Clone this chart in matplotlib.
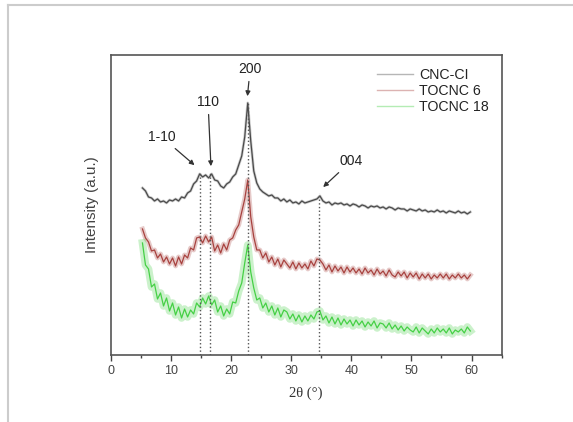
import numpy as np
import matplotlib.pyplot as plt
from matplotlib.lines import Line2D

two_theta = np.linspace(5.3, 59.8, 110)

# CNC-CI intensities (a.u.)
cnc_ci = [167, 164, 158, 157, 154, 156, 153, 154, 152, 155,
          154, 156, 154, 158, 157, 162, 164, 171, 174, 181,
          178, 180, 177, 181, 175, 174, 169, 167, 171, 173,
          178, 181, 190, 199, 218, 252, 214, 184, 172, 166,
          163, 161, 159, 160, 157, 157, 154, 156, 153, 155,
          152, 153, 151, 154, 152, 153, 154, 155, 156, 159,
          154, 152, 153, 150, 152, 151, 152, 150, 151, 149,
          151, 150, 148, 150, 149, 147, 149, 148, 149, 147,
          148, 146, 148, 147, 145, 147, 146, 146, 144, 146,
          145, 144, 146, 144, 145, 143, 144, 143, 145, 143,
          144, 142, 144, 143, 142, 144, 142, 143, 141, 143]

# TOCNC 6
tocnc6 = [126, 117, 113, 104, 105, 97, 101, 93, 98, 91,
          97, 89, 98, 91, 100, 97, 107, 105, 117, 118,
          112, 119, 113, 118, 104, 110, 102, 111, 105, 115,
          117, 125, 130, 143, 156, 175, 138, 118, 105, 105,
          97, 102, 93, 98, 90, 96, 88, 95, 91, 87,
          93, 86, 92, 87, 91, 86, 94, 89, 96, 95,
          91, 85, 90, 83, 89, 84, 88, 82, 88, 83,
          87, 82, 86, 81, 87, 82, 85, 80, 86, 81,
          84, 79, 85, 80, 78, 83, 79, 83, 77, 82,
          78, 82, 76, 81, 77, 81, 76, 80, 77, 81,
          77, 81, 76, 80, 77, 81, 77, 80, 76, 80]

# TOCNC 18
tocnc18 = [112, 90, 86, 68, 71, 56, 62, 49, 57, 44,
           52, 40, 48, 37, 46, 38, 45, 41, 52, 48,
           57, 51, 59, 50, 55, 43, 49, 39, 46, 41,
           53, 52, 64, 72, 92, 110, 83, 67, 55, 57,
           47, 52, 43, 49, 40, 47, 38, 45, 43, 36,
           41, 34, 40, 33, 39, 34, 40, 36, 43, 44,
           35, 39, 32, 38, 31, 37, 30, 36, 31, 35,
           29, 35, 30, 34, 28, 33, 29, 34, 27, 32,
           31, 27, 32, 26, 30, 25, 29, 24, 28, 25,
           23, 28, 22, 27, 24, 21, 26, 22, 27, 23,
           26, 22, 27, 21, 25, 23, 26, 22, 28, 24]

# reflections marked with dotted lines
peak_labels = ["1-10", "110", "200", "004"]
peak_pos = [14.8, 16.6, 22.8, 34.7]
peak_top = [183, 182, 252, 162]

series = [("CNC-CI", cnc_ci, "#4a4a4a"),
          ("TOCNC 6", tocnc6, "#a8423f"),
          ("TOCNC 18", tocnc18, "#45d045")]
band_width = [2.0, 3.5, 5.5]  # the scans look like fuzzy bands

plt.rcParams['font.family'] = ['Liberation Sans', 'DejaVu Sans']

fig = plt.figure(figsize=(5.73, 4.22), dpi=100)
ax = fig.add_axes([0.193, 0.1588, 0.6824, 0.711])

for (name, vals, col), bw in zip(series, band_width):
    ax.plot(two_theta, vals, color=col, lw=bw, alpha=0.28)
    ax.plot(two_theta, vals, color=col, lw=0.9)

ax.vlines(peak_pos, 0, peak_top, colors="#555555", linestyles=":", lw=1.0)

# peak annotations
arrow = dict(arrowstyle="-|>", color="#333333", lw=0.9, mutation_scale=7)
ax.annotate(peak_labels[2], xy=(22.7, 256), xytext=(23.2, 286), ha="center", va="center",
            fontsize=10, color="#222222", arrowprops=arrow)
ax.annotate(peak_labels[1], xy=(16.7, 186), xytext=(16.2, 253), ha="center", va="center",
            fontsize=10, color="#222222", arrowprops=arrow)
ax.annotate(peak_labels[0], xy=(14.3, 188), xytext=(8.5, 218), ha="center", va="center",
            fontsize=10, color="#222222", arrowprops=arrow)
ax.annotate(peak_labels[3], xy=(35.0, 166), xytext=(40.0, 194), ha="center", va="center",
            fontsize=10, color="#222222", arrowprops=arrow)

ax.set_xlim(0, 65)
ax.set_ylim(0, 300)
ax.set_xticks([0, 10, 20, 30, 40, 50, 60])
ax.set_xticks([5, 15, 25, 35, 45, 55, 65], minor=True)
ax.set_yticks([])
ax.tick_params(axis="x", which="major", length=4, width=1, colors="#444444", labelsize=9, pad=3)
ax.tick_params(axis="x", which="minor", length=2.5, width=1, colors="#444444")
for sp in ax.spines.values():
    sp.set_color("#555555")
    sp.set_linewidth(1.2)

ax.set_xlabel("2θ (°)", fontsize=10.5, family=["Liberation Serif", "DejaVu Serif"],
              color="#333333", labelpad=7)
ax.set_ylabel("Intensity (a.u.)", fontsize=11, color="#444444", labelpad=8)

handles = [Line2D([], [], color=c, lw=1.0, alpha=0.4) for _, _, c in series]
ax.legend(handles, [n for n, _, _ in series], loc="upper right", frameon=False,
          fontsize=10.2, handlelength=2.6, handletextpad=0.4, labelspacing=0.15,
          borderaxespad=0.5, labelcolor="#222222")

# light frame of the original figure crop
fig.add_artist(Line2D([8 / 573, 8 / 573], [0, 1 - 5 / 422], color="#cccccc", lw=1.5))
fig.add_artist(Line2D([8 / 573, 1], [1 - 5 / 422, 1 - 5 / 422], color="#cccccc", lw=1.5))

fig.savefig("out.png", dpi=100)
